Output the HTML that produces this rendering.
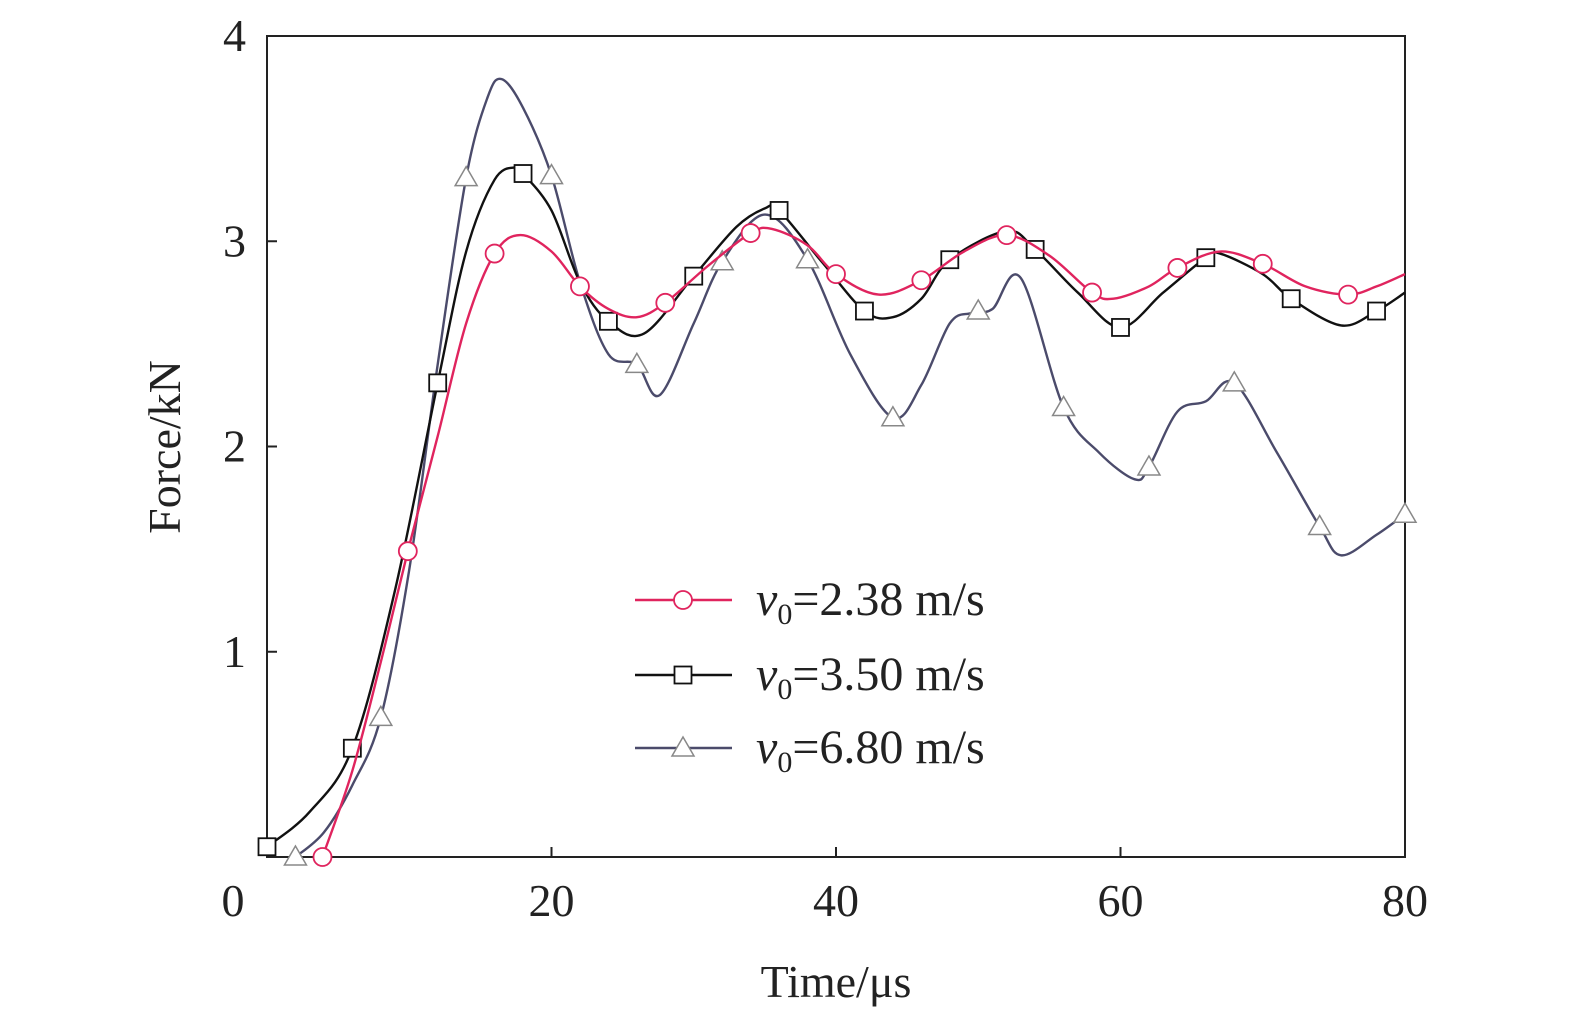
<!DOCTYPE html>
<html><head><meta charset="utf-8"><style>
html,body{margin:0;padding:0;background:#fff}
svg{display:block;font-family:"Liberation Serif",serif}
</style></head><body>
<svg id="chart" width="1575" height="1024" viewBox="0 0 1575 1024">
<rect x="267" y="36" width="1138" height="821" fill="none" stroke="#222" stroke-width="2"/>
<g id="ticks"></g>
<g id="series"></g>
<text x="836" y="997" font-size="46" text-anchor="middle" fill="#222">Time/μs</text>
<text transform="translate(180,447) rotate(-90)" font-size="46" text-anchor="middle" fill="#222">Force/kN</text>
<g id="legend"></g>
</svg>
<script>
const xTicks=[0,20,40,60,80];
const yTicks=[1,2,3,4];
const redT=[3.9,6,8,9.9,12,14,16,17.8,20,22,24,26,28,31,34,35.5,38,40,43,46,49,52,55,58,59.5,62,64,67,70,73,76,78,80];
const redF=[0,0.42,0.95,1.49,2.05,2.6,2.94,3.03,2.95,2.78,2.67,2.63,2.70,2.88,3.04,3.06,2.98,2.84,2.74,2.81,2.95,3.03,2.93,2.75,2.72,2.78,2.87,2.95,2.89,2.78,2.74,2.78,2.84];
const redMT=[3.9,9.9,16,22,28,34,40,46,52,58,64,70,76];
const redMF=[0,1.49,2.94,2.78,2.70,3.04,2.84,2.81,3.03,2.75,2.87,2.89,2.74];
const blkT=[0,3,6,9,12,14,16,17.5,18,20,22,24,26.5,30,33,35,36,39,42,44,46,48,52,54,57,60,63,66,67,70,72,75.5,78,80];
const blkF=[0.05,0.22,0.53,1.3,2.31,2.95,3.3,3.36,3.33,3.15,2.8,2.61,2.55,2.83,3.07,3.16,3.15,2.9,2.66,2.63,2.72,2.91,3.05,2.96,2.75,2.58,2.75,2.92,2.94,2.84,2.72,2.59,2.66,2.75];
const blkMT=[0,6,12,18,24,30,36,42,48,54,60,66,72,78];
const blkMF=[0.05,0.53,2.31,3.33,2.61,2.83,3.15,2.66,2.91,2.96,2.58,2.92,2.72,2.66];
const grT=[2,4,6,8,10,12,14,15.5,16.5,18,20,22,24,26,27.6,30,32,35,38,41,44,46,48,49.5,51,53,56,58.5,61,62,64,66,68,71,74,75.5,78,80];
const grF=[0,0.12,0.35,0.68,1.4,2.4,3.31,3.7,3.79,3.65,3.32,2.8,2.45,2.40,2.25,2.6,2.90,3.13,2.91,2.45,2.14,2.3,2.6,2.65,2.67,2.82,2.19,1.97,1.84,1.90,2.17,2.22,2.31,1.97,1.61,1.47,1.57,1.67];
const grMT=[2,8,14,20,26,32,38,44,50,56,62,68,74,80];
const grMF=[0,0.68,3.31,3.32,2.40,2.90,2.91,2.14,2.66,2.19,1.90,2.31,1.61,1.67];
const NS="http://www.w3.org/2000/svg";
const X=t=>267+t*(1138/80), Y=f=>857-f*205.25;
function mk(tag,attrs,parent){const e=document.createElementNS(NS,tag);for(const k in attrs)e.setAttribute(k,attrs[k]);parent.appendChild(e);return e;}
const ticks=document.getElementById('ticks');
xTicks.forEach(v=>{
 if(v>0&&v<80){const l=mk('line',{x1:X(v),x2:X(v),y1:857,y2:847,stroke:'#222','stroke-width':2},ticks);
 
 }
 const t=mk('text',{x:v===0?X(v)-34:X(v),y:916,'font-size':46,'text-anchor':'middle',fill:'#222'},ticks);t.textContent=v;
 
 
});
yTicks.forEach(v=>{
 if(v<4){const l=mk('line',{x1:267,x2:277,y1:Y(v),y2:Y(v),stroke:'#222','stroke-width':2},ticks);
 
 }
 const t=mk('text',{x:246,y:Y(v)+15,'font-size':46,'text-anchor':'end',fill:'#222'},ticks);t.textContent=v;
 
 
});
function smooth(T,F){const p=T.map((t,i)=>[X(t),Y(F[i])]);let d='M'+p[0][0]+','+p[0][1];
 for(let i=0;i<p.length-1;i++){const p0=p[i-1]||p[i],p1=p[i],p2=p[i+1],p3=p[i+2]||p2;
 const c1=[p1[0]+(p2[0]-p0[0])/6,p1[1]+(p2[1]-p0[1])/6],c2=[p2[0]-(p3[0]-p1[0])/6,p2[1]-(p3[1]-p1[1])/6];
 d+=`C${c1[0]},${c1[1]} ${c2[0]},${c2[1]} ${p2[0]},${p2[1]}`;}return d;}
function marker(type,x,y,g,stroke){let e;
 if(type==='c')e=mk('circle',{cx:x,cy:y,r:9,fill:'#fff',stroke:stroke,'stroke-width':1.8},g);
 else if(type==='s')e=mk('rect',{x:x-8.5,y:y-8.5,width:17,height:17,fill:'#fff',stroke:stroke,'stroke-width':1.8},g);
 else e=mk('polygon',{points:`${x},${y-11} ${x-11},${y+8} ${x+11},${y+8}`,fill:'#fff',stroke:'#888','stroke-width':1.5},g);
 return e;}
const sg=document.getElementById('series');
const defs=[[grT,grF,grMT,grMF,'#4b4b6b','t','series-v6-80'],[blkT,blkF,blkMT,blkMF,'#111','s','series-v3-50'],[redT,redF,redMT,redMF,'#e0245e','c','series-v2-38']];
defs.forEach(([T,F,MT,MF,c,m,n])=>{
 const g=mk('g',{},sg);
 
 
 const p=mk('path',{d:smooth(T,F),fill:'none',stroke:c,'stroke-width':2.4},g);
 
 
 MT.forEach((t,i)=>{const e=marker(m,X(t),Y(MF[i]),g,m==='c'?'#e0245e':'#111');
 
 });
});
const lg=document.getElementById('legend');
[['c','#e0245e','2.38 m/s',600],['s','#111','3.50 m/s',675],['t','#4b4b6b','6.80 m/s',748]].forEach(([m,c,lab,y])=>{
 const g=mk('g',{},lg);
 
 
 mk('line',{x1:635,x2:732,y1:y,y2:y,stroke:c,'stroke-width':2.4},g);
 marker(m,683,y,g,m==='c'?'#e0245e':'#111');
 const t=mk('text',{x:756,y:y+15,'font-size':48,fill:'#222'},g);
 t.innerHTML=`<tspan font-style="italic">v</tspan><tspan font-size="30" dy="9">0</tspan><tspan dy="-9">=${lab}</tspan>`;
});
</script>
</body></html>
